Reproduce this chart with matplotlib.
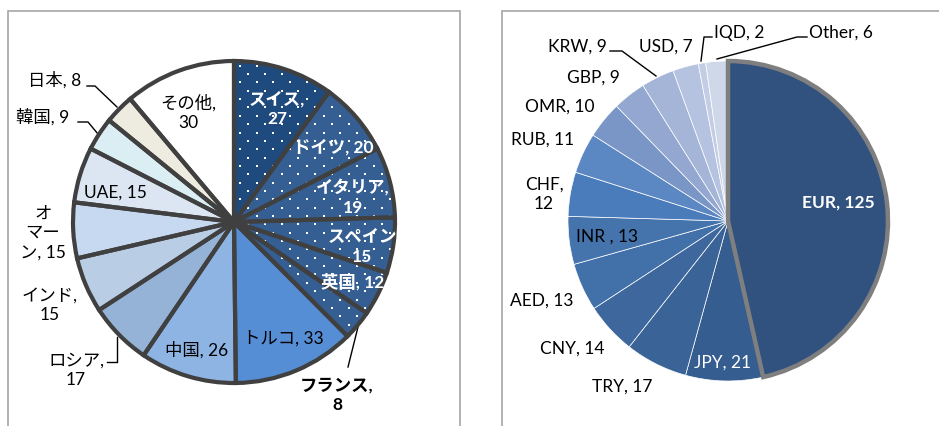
import matplotlib
matplotlib.use("Agg")
import matplotlib.pyplot as plt
import numpy as np
from matplotlib.patches import Rectangle

plt.rcParams['font.family'] = ['Lato', 'Noto Sans CJK JP', 'DejaVu Sans']

# ---------------- data ----------------
left_labels = ["スイス", "ドイツ", "イタリア", "スペイン", "英国", "フランス", "トルコ", "中国",
               "ロシア", "インド", "オマーン", "UAE", "韓国", "日本", "その他"]
left_values = [27, 20, 19, 15, 12, 8, 33, 26, 17, 15, 15, 15, 9, 8, 30]

right_labels = ["EUR", "JPY", "TRY", "CNY", "AED", "INR ", "CHF", "RUB", "OMR", "GBP",
                "KRW", "USD", "IQD", "Other"]
right_values = [125, 21, 17, 14, 13, 13, 12, 11, 10, 9, 9, 7, 2, 6]

# ---------------- styles ----------------
left_colors = ['#1f4a7e', '#355f92', '#355f92', '#355f92', '#355f92', '#355f92', '#558ed5',
               '#8db4e3', '#95b3d7', '#b9cde5', '#c6d9f1', '#dce6f2', '#dbeef4', '#eeece1', '#ffffff']
left_dotted = [True, True, True, True, True, True] + [False] * 9
right_colors = ['#31527f', '#355d8f', '#3a6397', '#3d679d', '#4270a8', '#4574ad', '#4a7cbb',
                '#5b87c2', '#7996c6', '#93a7d0', '#a4b5d8', '#b5c3e0', '#c3cee5', '#cfd8e8']

W, H = 939, 427
fig = plt.figure(figsize=(W / 100, H / 100), dpi=100)
ax = fig.add_axes([0, 0, 1, 1])
ax.set_xlim(0, W)
ax.set_ylim(0, H)
ax.set_aspect('equal')
ax.axis('off')

def Y(y):
    return H - y

# frames
ax.add_patch(Rectangle((8, Y(440)), 452, 428, fill=False, ec='#a6a6a6', lw=1.2))
ax.add_patch(Rectangle((502, Y(440)), 460, 428, fill=False, ec='#a6a6a6', lw=1.2))

# ---------------- left pie ----------------
lc = (234, Y(223))
lr = 161
wedges, _ = ax.pie(left_values, colors=left_colors, startangle=90, counterclock=False,
                   center=lc, radius=lr, frame=True,
                   wedgeprops=dict(edgecolor='white', linewidth=0))

# dotted texture (staggered grid of small white dots, clipped to each wedge)
step_x, step_y = 16.7, 8.35
rows = np.arange(lc[1] - lr, lc[1] + lr, step_y)
gx, gy = [], []
for i, yy in enumerate(rows):
    xs = np.arange(lc[0] - lr + (step_x / 2 if i % 2 else 0), lc[0] + lr, step_x)
    gx.extend(xs)
    gy.extend([yy] * len(xs))
for w, d in zip(wedges, left_dotted):
    if d:
        sc = ax.scatter(gx, gy, s=2.2, marker='s', c='white', linewidths=0, zorder=3)
        sc.set_clip_path(w)

wedges2, _ = ax.pie(left_values, colors=['none'] * len(left_values), startangle=90,
                    counterclock=False, center=lc, radius=lr, frame=True,
                    wedgeprops=dict(edgecolor='#404040', linewidth=3, fill=False))
for w in wedges2:
    w.set_zorder(4)

fs = 12.5
def txt(x, y, s, color='black', weight='normal', ha='center'):
    ax.text(x, Y(y), s, color=color, fontweight=weight, fontsize=fs, ha=ha, va='center',
            linespacing=1.25, zorder=10)

txt(277, 109, "スイス,\n27", 'white', 'bold')
txt(333, 147, "ドイツ, 20", 'white', 'bold')
txt(353, 198, "イタリア,\n19", 'white', 'bold')
txt(362, 247, "スペイン\n15", 'white', 'bold')
txt(353, 282, "英国, 12", 'white', 'bold')
txt(337, 395, "フランス,\n8", 'black', 'bold')
txt(283, 338, "トルコ, 33")
txt(197, 350, "中国, 26")
txt(76, 370, "ロシア,\n17")
txt(50, 305, "インド,\n15")
txt(43, 233, "オ\nマー\nン, 15")
txt(115, 193, "UAE, 15")
txt(43, 117, "韓国, 9")
txt(55, 80, "日本, 8")
txt(188, 113, "その他,\n30")

lk = dict(color='black', lw=1)
ax.plot([358, 348], [Y(328), Y(368)], **lk)
ax.plot([107, 117, 117], [Y(363), Y(363), Y(338)], **lk)
ax.plot([78, 88, 98], [Y(123), Y(123), Y(135)], **lk)
ax.plot([87, 95, 117], [Y(87), Y(87), Y(108)], **lk)

# ---------------- right pie ----------------
rc = (728, Y(222))
rr = 160
rw, _ = ax.pie(right_values, colors=right_colors, startangle=90, counterclock=False,
               center=rc, radius=rr, frame=True,
               wedgeprops=dict(edgecolor='white', linewidth=0.5))
rw[0].set_edgecolor('#7f7f7f')
rw[0].set_linewidth(3.2)
rw[0].set_zorder(5)

txt(838, 203, "EUR, 125", 'white', 'bold')
txt(723, 363, "JPY, 21", 'white')
txt(622, 387, "TRY, 17")
txt(572, 349, "CNY, 14")
txt(542, 301, "AED, 13")
txt(607, 237, "INR , 13")
txt(544, 194, "CHF,\n12")
txt(543, 140, "RUB, 11")
txt(560, 107, "OMR, 10")
txt(593, 78, "GBP, 9")
txt(577, 47, "KRW, 9")
txt(666, 47, "USD, 7")
txt(739, 33, "IQD, 2")
txt(841, 33, "Other, 6")

ax.plot([610, 622, 656], [Y(52), Y(52), Y(77)], **lk)
ax.plot([712, 704, 701], [Y(38), Y(38), Y(62)], **lk)
ax.plot([807, 797, 717], [Y(38), Y(38), Y(60)], **lk)

ax.set_xlim(0, W)
ax.set_ylim(0, H)
fig.savefig("out.png", dpi=100)
